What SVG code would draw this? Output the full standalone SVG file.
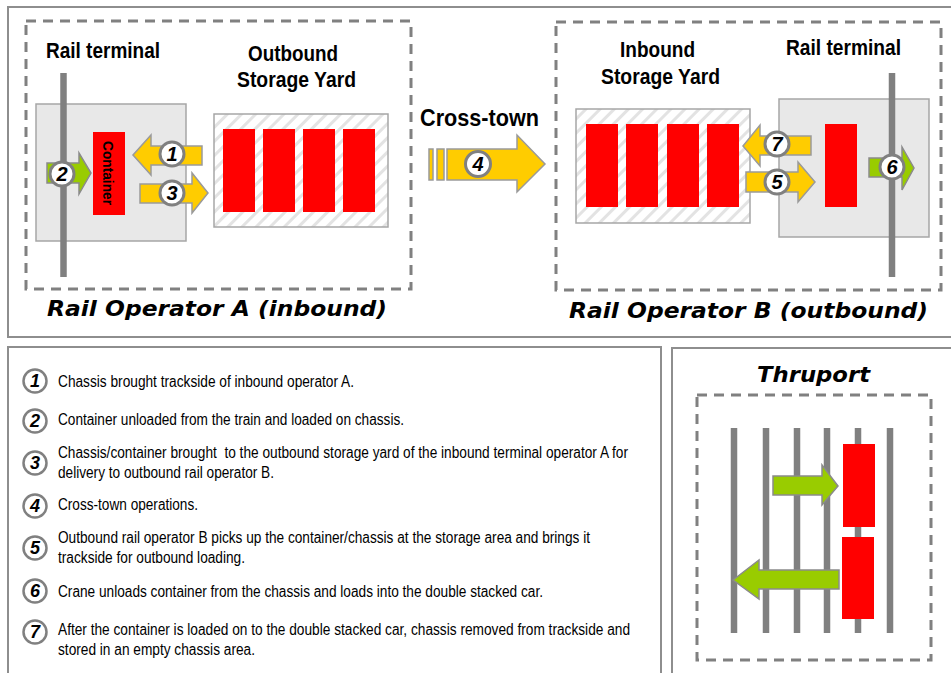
<svg xmlns="http://www.w3.org/2000/svg" width="951" height="673" viewBox="0 0 951 673">
<defs>
<style>
.frame{fill:none;stroke:#8e8e8e;stroke-width:2}
.dash{fill:none;stroke:#808080;stroke-width:3;stroke-dasharray:10 7}
.term{fill:#e8e8e8;stroke:#a6a6a6;stroke-width:1.5}
.yard{fill:url(#hatch);stroke:#a6a6a6;stroke-width:1.5}
.red{fill:#ff0000}
.rail{stroke:#808080;stroke-width:6.5}
.ya{fill:#ffcc00;stroke:#9a9a9a;stroke-width:1.5}
.ga{fill:#99cc00;stroke:#8a8a8a;stroke-width:1.5}
.circ{fill:#ffffff;stroke:#808080;stroke-width:3}
.num{font-family:"Liberation Sans",Arial,sans-serif;font-weight:bold;font-style:italic;font-size:20px;text-anchor:middle;fill:#000}
.lnum{font-family:"Liberation Sans",Arial,sans-serif;font-weight:bold;font-style:italic;font-size:18px;text-anchor:middle;fill:#000}
.hd{font-family:"Liberation Sans Narrow","Liberation Sans",Arial,sans-serif;font-weight:bold;font-size:22px;fill:#000}
.op{font-family:"DejaVu Sans",Verdana,sans-serif;font-weight:bold;font-style:italic;font-size:22px;fill:#000}
.lg{font-family:"Liberation Sans Narrow","Liberation Sans",Arial,sans-serif;font-size:16px;fill:#000}
</style>
<pattern id="hatch" patternUnits="userSpaceOnUse" width="10" height="10" patternTransform="rotate(45)">
<rect x="0" y="0" width="10" height="10" fill="#ffffff"/>
<rect x="0" y="0" width="3" height="10" fill="#e3e3e3"/>
</pattern>
</defs>

<rect x="0" y="0" width="951" height="673" fill="#ffffff"/>

<!-- Frames -->
<g id="frames">
<rect class="frame" x="8" y="7" width="960" height="330"/>
<rect class="frame" x="8" y="347" width="653" height="340"/>
<rect class="frame" x="672" y="348" width="300" height="340"/>
</g>

<!-- Operator A -->
<g id="operatorA">
<rect class="dash" x="26" y="21" width="385" height="268"/>
<text class="op" x="47" y="316" textLength="340" lengthAdjust="spacingAndGlyphs">Rail Operator A (inbound)</text>
</g>
<g id="railTerminalA">
<text class="hd" x="46" y="58" textLength="114" lengthAdjust="spacingAndGlyphs">Rail terminal</text>
<rect class="term" x="36" y="104" width="150" height="137"/>
<rect class="red" x="93" y="132" width="32" height="83"/>
<text class="hd" style="font-size:15px" transform="translate(103,173) rotate(90)" text-anchor="middle" textLength="64" lengthAdjust="spacingAndGlyphs">Container</text>
</g>
<g id="outboundYardA">
<text class="hd" x="248" y="61" textLength="90" lengthAdjust="spacingAndGlyphs">Outbound</text>
<text class="hd" x="237" y="87" textLength="119" lengthAdjust="spacingAndGlyphs">Storage Yard</text>
<rect class="yard" x="214" y="114" width="174" height="113"/>
<rect class="red" x="223" y="129" width="32" height="83"/>
<rect class="red" x="263" y="129" width="32" height="83"/>
<rect class="red" x="303" y="129" width="32" height="83"/>
<rect class="red" x="343" y="129" width="32" height="83"/>
</g>

<!-- Operator B -->
<g id="operatorB">
<rect class="dash" x="556" y="22" width="385" height="268"/>
<text class="op" x="569" y="318" textLength="359" lengthAdjust="spacingAndGlyphs">Rail Operator B (outbound)</text>
</g>
<g id="inboundYardB">
<text class="hd" x="620" y="57" textLength="75" lengthAdjust="spacingAndGlyphs">Inbound</text>
<text class="hd" x="601" y="84" textLength="119" lengthAdjust="spacingAndGlyphs">Storage Yard</text>
<rect class="yard" x="576" y="109" width="174" height="114"/>
<rect class="red" x="586" y="124" width="32" height="83"/>
<rect class="red" x="626" y="124" width="32" height="83"/>
<rect class="red" x="667" y="124" width="32" height="83"/>
<rect class="red" x="707" y="124" width="32" height="83"/>
</g>
<g id="railTerminalB">
<text class="hd" x="786" y="55" textLength="115" lengthAdjust="spacingAndGlyphs">Rail terminal</text>
<rect class="term" x="779" y="99" width="150" height="138"/>
<rect class="red" x="825" y="124" width="32" height="83"/>
</g>

<!-- Connectors / arrows -->
<g id="connectors">
<polygon class="ga" points="47,163 79,163 79,153 91,173 79,194 79,183 47,183"/>
<line class="rail" x1="63.5" y1="73" x2="63.5" y2="277"/>
<polygon class="ya" points="133,155 151,135 151,146 202,146 202,165 151,165 151,175"/>
<polygon class="ya" points="140,184 192,184 192,173 208,193 192,213 192,203 140,203"/>
<rect class="ya" x="429" y="149" width="4" height="31"/>
<rect class="ya" x="437" y="149" width="7" height="31"/>
<polygon class="ya" points="447,149 517,149 517,135 545,164 517,192 517,180 447,180"/>
<polygon class="ya" points="743,146 760,125 760,136 811,136 811,155 760,155 760,166"/>
<polygon class="ya" points="746,172 798,172 798,162 815,182 798,202 798,192 746,192"/>
<polygon class="ga" points="869,158 902,158 902,147 914,168 902,190 902,177 869,177"/>
<line class="rail" x1="892" y1="73" x2="892" y2="277"/>
</g>

<!-- step markers -->
<g id="markers">
<circle class="circ" cx="172" cy="154" r="12"/><text class="num" x="172" y="161">1</text>
<circle class="circ" cx="62" cy="174" r="12"/><text class="num" x="62" y="181">2</text>
<circle class="circ" cx="172" cy="193" r="12"/><text class="num" x="172" y="200">3</text>
<circle class="circ" cx="478" cy="164" r="12.5"/><text class="num" x="478" y="171">4</text>
<circle class="circ" cx="777" cy="182" r="12"/><text class="num" x="777" y="189">5</text>
<circle class="circ" cx="892" cy="167" r="12"/><text class="num" x="892" y="174">6</text>
<circle class="circ" cx="777" cy="144" r="12"/><text class="num" x="777" y="151">7</text>
</g>

<g id="crossTown">
<text class="hd" style="font-size:23px" x="420" y="126" textLength="119" lengthAdjust="spacingAndGlyphs">Cross-town</text>
</g>

<!-- Legend -->
<g id="legend">
<circle class="circ" cx="35" cy="381" r="11.5" style="stroke-width:2.5"/><text class="lnum" x="35" y="387">1</text>
<text class="lg" x="58" y="387" textLength="296" lengthAdjust="spacingAndGlyphs">Chassis brought trackside of inbound operator A.</text>
<circle class="circ" cx="35" cy="421" r="11.5" style="stroke-width:2.5"/><text class="lnum" x="35" y="427">2</text>
<text class="lg" x="58" y="425" textLength="346" lengthAdjust="spacingAndGlyphs">Container unloaded from the train and loaded on chassis.</text>
<circle class="circ" cx="35" cy="463" r="11.5" style="stroke-width:2.5"/><text class="lnum" x="35" y="469">3</text>
<text class="lg" x="58" y="458" textLength="570" lengthAdjust="spacingAndGlyphs">Chassis/container brought&#160; to the outbound storage yard of the inbound terminal operator A for</text>
<text class="lg" x="58" y="478" textLength="216" lengthAdjust="spacingAndGlyphs">delivery to outbound rail operator B.</text>
<circle class="circ" cx="35" cy="506" r="11.5" style="stroke-width:2.5"/><text class="lnum" x="35" y="512">4</text>
<text class="lg" x="58" y="510" textLength="140" lengthAdjust="spacingAndGlyphs">Cross-town operations.</text>
<circle class="circ" cx="35" cy="548" r="11.5" style="stroke-width:2.5"/><text class="lnum" x="35" y="554">5</text>
<text class="lg" x="58" y="543" textLength="532" lengthAdjust="spacingAndGlyphs">Outbound rail operator B picks up the container/chassis at the storage area and brings it</text>
<text class="lg" x="58" y="563" textLength="187" lengthAdjust="spacingAndGlyphs">trackside for outbound loading.</text>
<circle class="circ" cx="35" cy="591" r="11.5" style="stroke-width:2.5"/><text class="lnum" x="35" y="597">6</text>
<text class="lg" x="58" y="597" textLength="485" lengthAdjust="spacingAndGlyphs">Crane unloads container from the chassis and loads into the double stacked car.</text>
<circle class="circ" cx="35" cy="632" r="11.5" style="stroke-width:2.5"/><text class="lnum" x="35" y="638">7</text>
<text class="lg" x="58" y="635" textLength="572" lengthAdjust="spacingAndGlyphs">After the container is loaded on to the double stacked car, chassis removed from trackside and</text>
<text class="lg" x="58" y="655" textLength="197" lengthAdjust="spacingAndGlyphs">stored in an empty chassis area.</text>
</g>

<!-- Thruport -->
<g id="thruport">
<text class="op" x="757" y="382" textLength="113" lengthAdjust="spacingAndGlyphs">Thruport</text>
<rect class="dash" x="697" y="395" width="234" height="265"/>
<line class="rail" x1="734" y1="428" x2="734" y2="633"/>
<line class="rail" x1="766" y1="428" x2="766" y2="633"/>
<line class="rail" x1="797" y1="428" x2="797" y2="633"/>
<line class="rail" x1="827" y1="428" x2="827" y2="633"/>
<line class="rail" x1="858" y1="428" x2="858" y2="633"/>
<line class="rail" x1="890" y1="428" x2="890" y2="633"/>
<rect class="red" x="843" y="444" width="32" height="83"/>
<rect class="red" x="842" y="537" width="32" height="82"/>
<polygon class="ga" points="773,476 822,476 822,465 838,486 822,505 822,495 773,495"/>
<polygon class="ga" points="733,580 759,560 759,570 839,570 839,589 759,589 759,599"/>
</g>
</svg>
